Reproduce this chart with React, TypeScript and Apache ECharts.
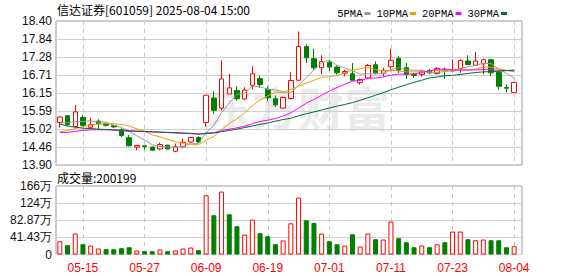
import React, { useEffect, useRef } from 'react';
import * as echarts from 'echarts';

const dates = ['05-12','05-13','05-14','05-15','05-16','05-19','05-20','05-21','05-22','05-23','05-26','05-27','05-28','05-29','05-30','06-03','06-04','06-05','06-06','06-09','06-10','06-11','06-12','06-13','06-16','06-17','06-18','06-19','06-20','06-23','06-24','06-25','06-26','06-27','06-30','07-01','07-02','07-03','07-04','07-07','07-08','07-09','07-10','07-11','07-14','07-15','07-16','07-17','07-18','07-21','07-22','07-23','07-24','07-25','07-28','07-29','07-30','07-31','08-01','08-04'];

const opens = [15.23,15.44,15.10,15.39,15.08,15.27,15.19,15.13,15.00,14.75,14.46,14.50,14.46,14.40,14.52,14.33,14.47,14.62,14.76,15.23,15.99,15.68,16.12,16.23,15.96,16.39,16.60,16.26,15.97,15.68,15.98,16.55,17.60,17.22,16.94,17.11,16.96,16.77,16.75,16.47,16.62,17.03,16.77,16.97,17.23,16.94,16.73,16.73,16.85,16.76,16.88,16.84,16.92,17.15,17.02,17.06,17.19,16.80,16.32,16.17];
const closes = [15.40,15.16,15.56,15.14,15.16,15.19,15.14,15.09,14.82,14.50,14.51,14.48,14.36,14.54,14.40,14.47,14.61,14.76,14.62,16.08,15.61,16.59,16.31,15.97,16.24,16.75,16.41,16.00,15.78,16.01,16.54,17.60,17.25,16.94,17.13,16.96,16.78,16.82,16.55,16.57,17.01,16.78,16.86,17.17,16.86,16.73,16.70,16.83,16.78,16.92,16.85,16.86,17.17,17.04,17.15,17.19,16.78,16.36,16.30,16.48];
const lows = [15.07,15.12,15.08,15.10,15.05,15.02,15.10,15.06,14.77,14.48,14.36,14.39,14.35,14.36,14.39,14.30,14.44,14.60,14.58,15.10,15.49,15.60,16.12,15.91,15.93,16.26,16.31,15.89,15.72,15.66,15.95,16.53,17.09,16.88,16.73,16.83,16.73,16.67,16.52,16.41,16.59,16.73,16.67,16.83,16.78,16.59,16.62,16.66,16.73,16.73,16.59,16.82,16.78,17.02,16.99,16.73,16.68,16.26,16.17,16.17];
const highs = [15.42,15.45,15.78,15.47,15.38,15.33,15.22,15.16,15.05,14.84,14.52,14.50,14.48,14.60,14.53,14.57,14.73,14.78,14.80,16.08,16.20,17.17,16.75,16.36,16.33,16.99,16.70,16.36,16.07,16.04,16.80,18.07,17.67,17.53,17.33,17.18,17.01,16.88,17.09,16.60,17.06,17.14,16.94,17.53,17.30,17.09,16.78,16.86,16.90,16.96,16.94,17.20,17.20,17.33,17.43,17.22,17.22,16.85,16.41,16.50];

// volume in 万 (10k) units
const volumes = [32.1,22.5,50.7,24.9,21.7,14.5,12.8,12.8,15.2,17.6,9.7,8.0,8.0,12.1,8.0,9.7,14.5,16.9,10.4,143.3,95.0,152.2,97.4,68.4,48.3,84.6,51.5,44.2,24.9,33.8,75.5,137.7,82.9,76.4,50.7,32.1,24.9,21.7,49.0,19.3,50.7,37.0,36.2,79.7,39.4,29.7,17.6,21.7,17.6,24.9,29.7,55.6,55.6,37.0,34.5,36.2,34.5,34.5,17.6,20.02];

const ma5 = [15.21,15.23,15.25,15.26,15.28,15.24,15.24,15.14,15.08,14.95,14.81,14.68,14.53,14.48,14.46,14.45,14.48,14.56,14.57,14.91,15.14,15.53,15.84,16.11,16.14,16.37,16.34,16.27,16.24,16.19,16.15,16.39,16.64,16.87,17.09,17.18,17.01,16.93,16.85,16.74,16.75,16.75,16.75,16.88,16.94,16.88,16.86,16.86,16.78,16.79,16.82,16.85,16.92,16.97,17.01,17.08,17.07,16.90,16.76,16.62];
const ma10 = [14.93,14.98,15.04,15.10,15.15,15.18,15.19,15.19,15.17,15.12,15.03,14.96,14.84,14.78,14.70,14.63,14.58,14.55,14.53,14.68,14.79,15.00,15.20,15.34,15.53,15.75,15.93,16.06,16.17,16.17,16.26,16.36,16.46,16.55,16.64,16.66,16.70,16.78,16.86,16.91,16.96,16.88,16.84,16.86,16.84,16.81,16.81,16.81,16.83,16.86,16.85,16.86,16.89,16.87,16.90,16.95,16.96,16.91,16.86,16.82];
const ma20 = [14.91,14.92,14.95,14.98,15.00,15.00,15.00,14.99,14.97,14.95,14.95,14.94,14.93,14.92,14.91,14.90,14.89,14.88,14.86,14.90,14.91,14.98,15.02,15.06,15.11,15.19,15.26,15.30,15.35,15.43,15.53,15.68,15.83,15.95,16.08,16.21,16.32,16.42,16.52,16.54,16.61,16.62,16.65,16.71,16.74,16.74,16.75,16.79,16.84,16.89,16.90,16.87,16.86,16.87,16.87,16.88,16.88,16.86,16.85,16.84];
const ma30 = [15.18,15.12,15.08,15.05,15.04,15.02,15.01,15.00,14.99,14.97,14.96,14.95,14.94,14.93,14.92,14.91,14.90,14.89,14.87,14.88,14.90,14.94,14.98,15.02,15.07,15.12,15.17,15.21,15.27,15.32,15.36,15.44,15.50,15.56,15.62,15.68,15.74,15.79,15.85,15.92,16.00,16.08,16.16,16.25,16.33,16.41,16.48,16.55,16.62,16.65,16.69,16.70,16.73,16.76,16.79,16.81,16.82,16.83,16.85,16.87];

const priceTicks = ['13.90','14.46','15.02','15.59','16.15','16.71','17.28','17.84','18.40'];
const volTicks = ['0','41.43万','82.87万','124万','166万'];
const priceMin = 13.9;
const priceMax = 18.4;
const volMax = 165.74;

const maNames = ['5PMA', '10PMA', '20PMA', '30PMA'];
const maColors = ['#999999', '#f0a000', '#ff00ff', '#006e33'];

const RED = '#ff0000';
const GREEN = '#008000';

const showIdx = (i: number) => i >= 3 && (i - 3) % 8 === 0;

export default function App() {
  const ref = useRef<HTMLDivElement>(null);

  useEffect(() => {
    const chart = echarts.init(ref.current!, null, { renderer: 'svg' });

    const candleData = dates.map((_, i) => [opens[i], closes[i], lows[i], highs[i]]);
    const volData = volumes.map((v, i) => {
      const up = i === 0 ? closes[i] >= opens[i] : closes[i] >= closes[i - 1];
      return {
        value: v,
        itemStyle: up
          ? { color: '#ffffff', borderColor: RED, borderWidth: 1 }
          : { color: GREEN, borderColor: GREEN, borderWidth: 1 },
      };
    });
    const maData = [ma5, ma10, ma20, ma30];

    const labelFont = 'Liberation Sans';
    const dataLeft = 59.85;
    const dataWidth = 454.3;

    const option: any = {
      animation: false,
      backgroundColor: '#ffffff',
      legend: {
        data: maNames,
        right: 66,
        top: 3,
        icon: 'rect',
        itemWidth: 6,
        itemHeight: 3,
        itemGap: 6,
        align: 'right',
        selectedMode: false,
        textStyle: { fontSize: 10.5, fontFamily: 'Liberation Mono', color: '#000', padding: [0, -3, 0, 0] },
      },
      graphic: [
        {
          type: 'text',
          z: -1,
          x: 298,
          y: 106,
          style: {
            text: '东方财富',
            font: 'bold 46px "Noto Sans CJK SC"',
            fill: '#ebebeb',
            align: 'center',
            verticalAlign: 'middle',
          },
        },
        {
          type: 'text',
          x: 57,
          y: 9,
          style: {
            text: '信达证券[601059] 2025-08-04 15:00',
            font: '12px "Noto Sans CJK SC"',
            fill: '#000',
            verticalAlign: 'middle',
          },
        },
        {
          type: 'text',
          x: 57,
          y: 177,
          style: {
            text: '成交量:200199',
            font: '12px "Noto Sans CJK SC"',
            fill: '#000',
            verticalAlign: 'middle',
          },
        },
      ],
      grid: [
        { left: 56, top: 21, width: 466, height: 144, show: true, borderColor: '#999', borderWidth: 1, backgroundColor: 'transparent' },
        { left: dataLeft, top: 21, width: dataWidth, height: 144 },
        { left: 56, top: 186, width: 466, height: 68.5, show: true, borderColor: '#999', borderWidth: 1, backgroundColor: 'transparent' },
        { left: dataLeft, top: 186, width: dataWidth, height: 68.5 },
      ],
      xAxis: [
        { gridIndex: 0, type: 'value', min: 0, max: 1, show: false },
        {
          gridIndex: 1,
          type: 'category',
          data: dates,
          boundaryGap: false,
          axisLine: { show: false },
          axisTick: { show: false },
          axisLabel: { show: false },
          splitLine: { show: true, interval: (i: number) => showIdx(i), lineStyle: { color: '#c8c8c8', type: [4, 4], width: 1 } },
        },
        { gridIndex: 2, type: 'value', min: 0, max: 1, show: false },
        {
          gridIndex: 3,
          type: 'category',
          data: dates,
          boundaryGap: false,
          axisLine: { show: false },
          axisTick: { show: false },
          axisLabel: {
            interval: (i: number) => showIdx(i),
            color: RED,
            fontSize: 12,
            fontFamily: labelFont,
            margin: 7,
          },
          splitLine: { show: true, interval: (i: number) => showIdx(i), lineStyle: { color: '#c8c8c8', type: [4, 4], width: 1 } },
        },
      ],
      yAxis: [
        {
          gridIndex: 0,
          type: 'value',
          min: 0,
          max: 8,
          interval: 1,
          axisLine: { show: false },
          axisTick: { show: false },
          axisLabel: { formatter: (v: number) => priceTicks[Math.round(v)], color: '#111', fontSize: 12, fontFamily: labelFont, margin: 4 },
          splitLine: { show: true, lineStyle: { color: '#d0d0d0', width: 1 } },
        },
        { gridIndex: 1, type: 'value', min: priceMin, max: priceMax, show: false, splitLine: { show: false } },
        {
          gridIndex: 2,
          type: 'value',
          min: 0,
          max: 4,
          interval: 1,
          axisLine: { show: false },
          axisTick: { show: false },
          axisLabel: { formatter: (v: number) => volTicks[Math.round(v)], color: '#111', fontSize: 12, fontFamily: labelFont, margin: 4 },
          splitLine: { show: true, lineStyle: { color: '#d0d0d0', width: 1 } },
        },
        { gridIndex: 3, type: 'value', min: 0, max: volMax, show: false, splitLine: { show: false } },
      ],
      series: [
        {
          type: 'candlestick',
          xAxisIndex: 1,
          yAxisIndex: 1,
          data: candleData,
          barWidth: 5,
          clip: false,
          itemStyle: {
            color: '#ffffff',
            color0: GREEN,
            borderColor: RED,
            borderColor0: GREEN,
            borderWidth: 1,
          },
          z: 2,
        },
        ...maNames.map((name, k) => ({
          type: 'line',
          name,
          xAxisIndex: 1,
          yAxisIndex: 1,
          data: maData[k],
          symbol: 'none',
          clip: false,
          lineStyle: { color: maColors[k], width: 1 },
          itemStyle: { color: maColors[k] },
          z: 3,
        })),
        {
          type: 'bar',
          xAxisIndex: 3,
          yAxisIndex: 3,
          data: volData,
          barWidth: 5,
          clip: false,
        },
      ],
    };

    chart.setOption(option);
    return () => chart.dispose();
  }, []);

  return <div ref={ref} style={{ position: 'fixed', left: 0, top: 0, width: 578, height: 276 }} />;
}
